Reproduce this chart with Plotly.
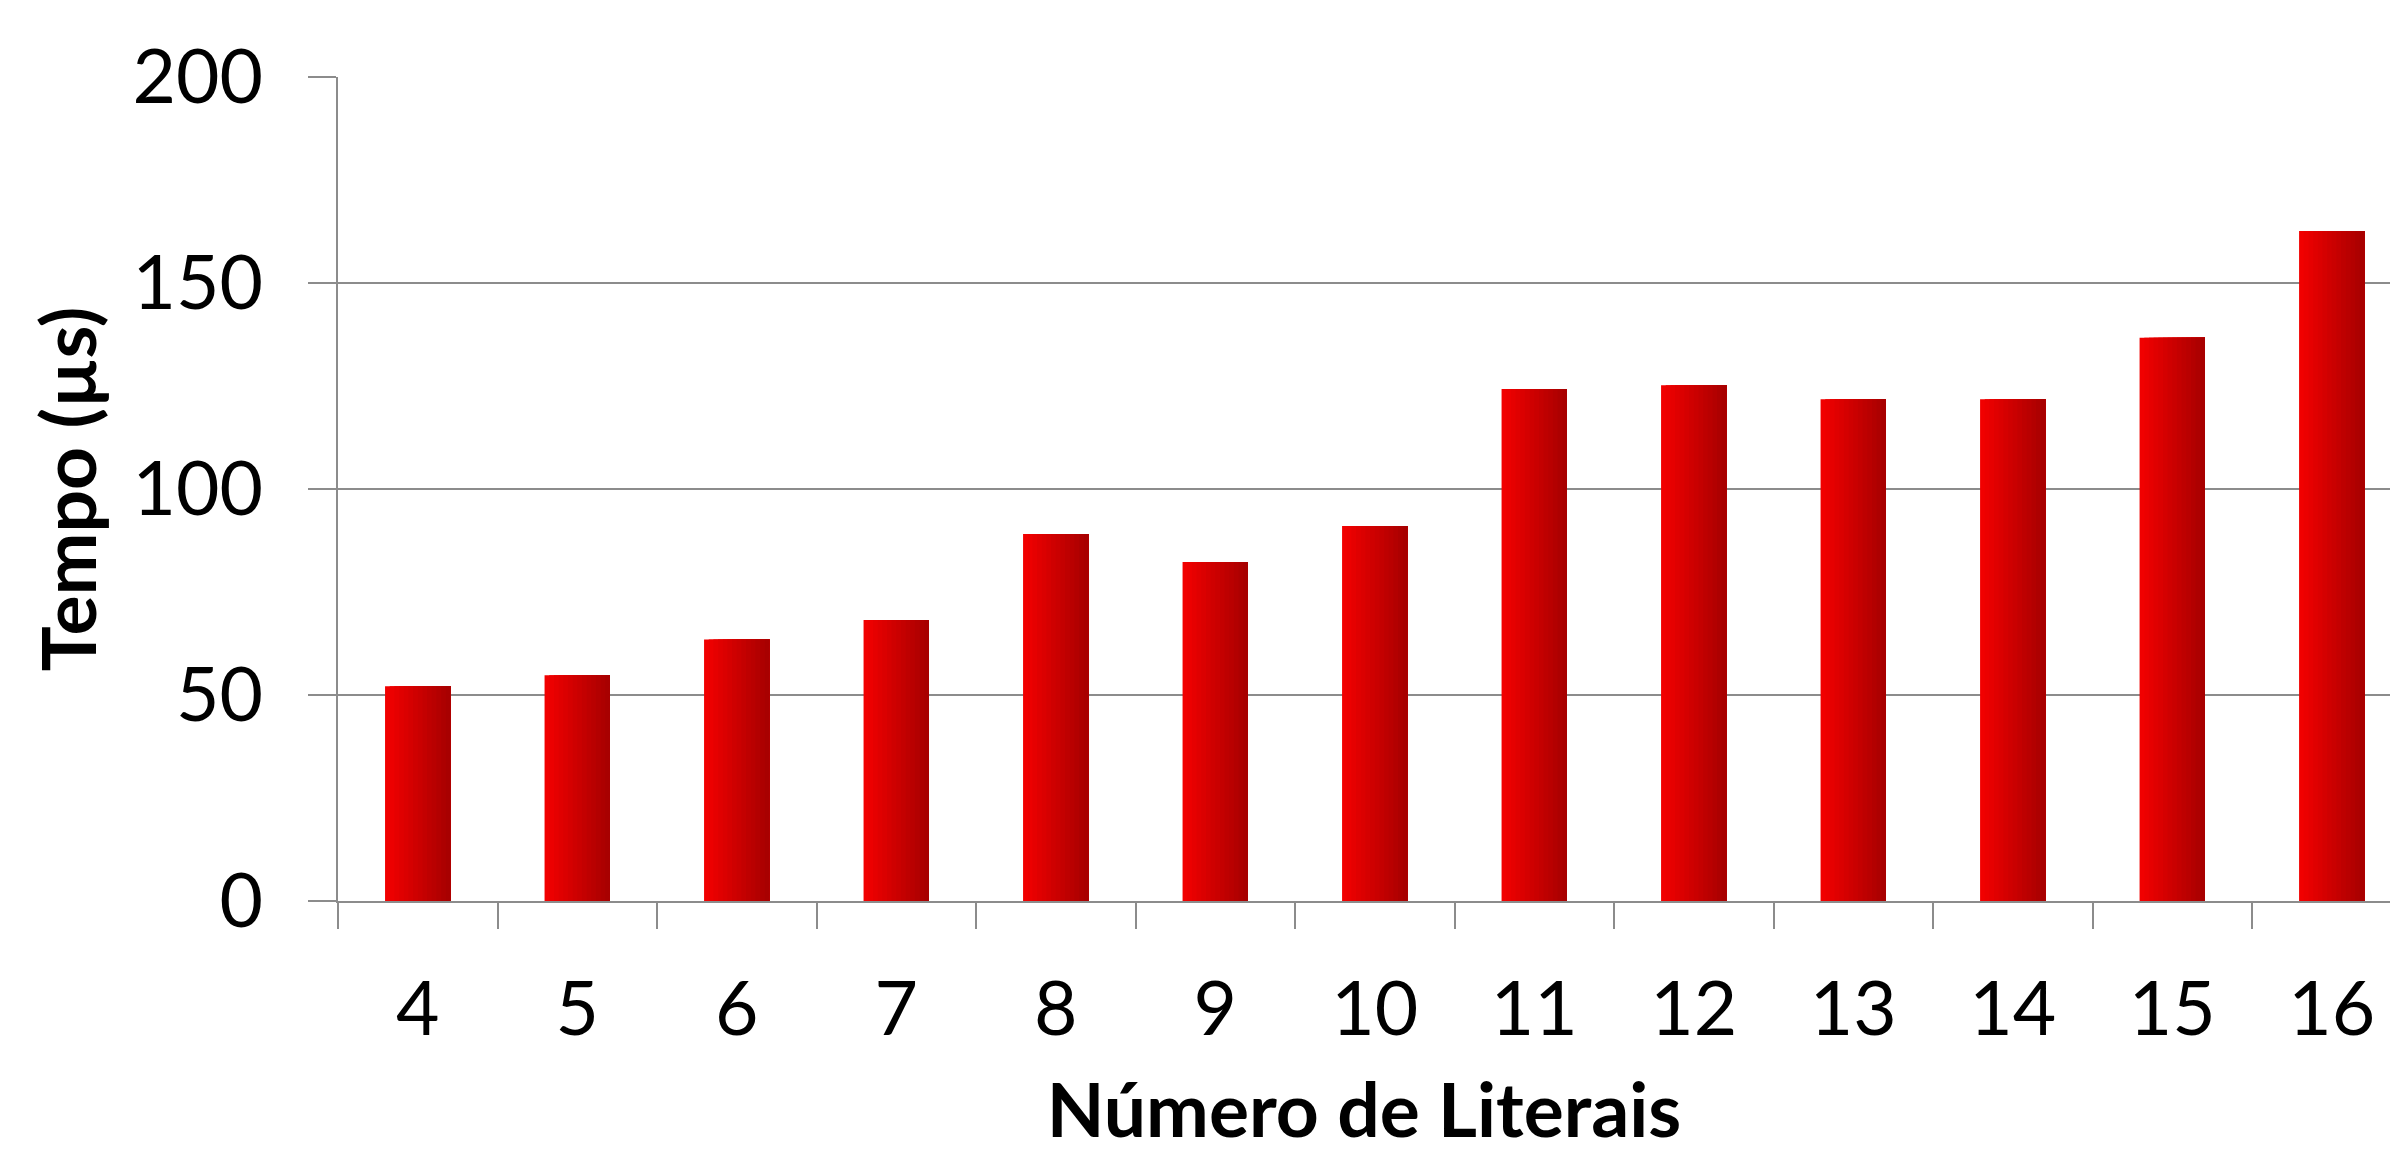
import plotly.graph_objects as go

categories = ["4", "5", "6", "7", "8", "9", "10", "11", "12", "13", "14", "15", "16"]
tempo_us = [52.1, 54.8, 63.5, 68.2, 89.1, 82.3, 91.0, 124.3, 125.2, 121.8, 121.8, 136.7, 162.6]
y_ticks = [0, 50, 100, 150, 200]

x_title = "Número de Literais"
y_title = "Tempo (µs)"

FONT = "Lato"
GRID = "#8c8c8c"

bar_w = 0.41
n_strips = 14
c_left = (244, 0, 0)
c_right = (165, 0, 0)

fig = go.Figure()
for i in range(n_strips):
    t = (i + 0.5) / n_strips
    col = tuple(round(c_left[k] + (c_right[k] - c_left[k]) * t) for k in range(3))
    off = -bar_w / 2 + i * bar_w / n_strips
    fig.add_trace(go.Bar(
        x=categories, y=tempo_us,
        offset=off, width=bar_w - i * bar_w / n_strips,
        marker=dict(color="rgb(%d,%d,%d)" % col, line=dict(width=0)),
        showlegend=False, hoverinfo="skip" if i else None,
    ))

fig.update_layout(
    width=2390, height=1153,
    margin=dict(l=338, r=0, t=77, b=252, autoexpand=False),
    paper_bgcolor="white", plot_bgcolor="white",
    barmode="overlay",
    font=dict(family=FONT, color="black"),
)
fig.update_xaxes(
    type="category", range=[-0.5, 12.365],
    tickson="boundaries", ticks="outside", ticklen=26, tickwidth=2, tickcolor=GRID,
    showline=True, linecolor=GRID, linewidth=2,
    showgrid=False, tickfont=dict(size=75, family=FONT),
    ticklabelstandoff=42,
    title=dict(text="<b>%s</b>" % x_title, font=dict(size=75, family=FONT), standoff=46),
    automargin=False,
)
fig.update_yaxes(
    range=[0, 200], tickvals=y_ticks,
    ticks="outside", ticklen=28, tickwidth=2, tickcolor=GRID,
    showline=True, linecolor=GRID, linewidth=2,
    showgrid=True, gridcolor=GRID, gridwidth=2,
    zeroline=False,
    tickfont=dict(size=75, family=FONT),
    ticklabelstandoff=30,
    title=dict(text="<b>%s</b>" % y_title, font=dict(size=75, family=FONT), standoff=11),
    automargin=False,
)

fig.write_html("out.html")
